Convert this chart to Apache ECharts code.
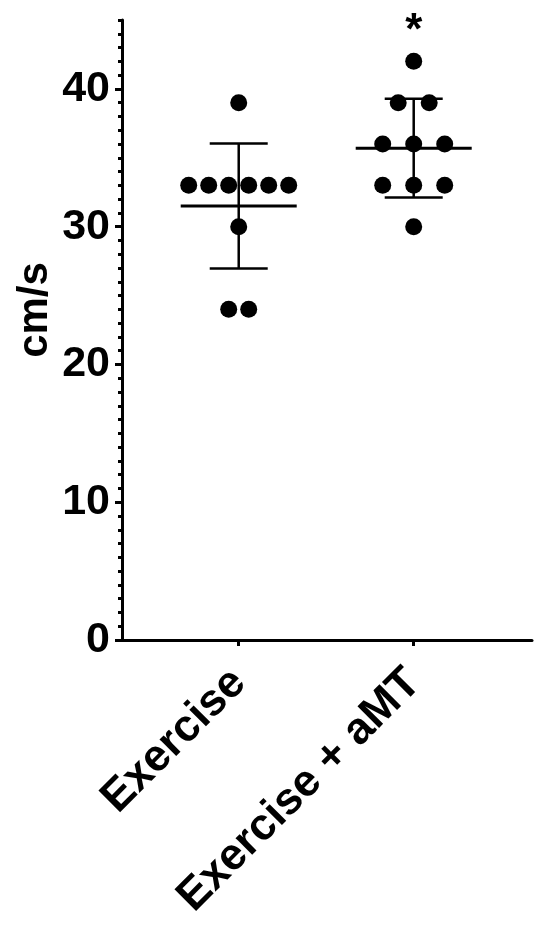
<!DOCTYPE html>
<html>
<head>
<meta charset="utf-8">
<script src="https://cdn.jsdelivr.net/npm/echarts@6/dist/echarts.min.js"></script>
<style>
html,body{margin:0;padding:0;background:#fff;}
#chart{width:550px;height:941px;}
</style>
</head>
<body>
<div id="chart"></div>
<script>
// ---- data ----
const categories = ['Exercise', 'Exercise + aMT'];
const exerciseValues = [39, 33, 33, 33, 33, 33, 33, 30, 24, 24];
const exerciseAmtValues = [42, 39, 39, 36, 36, 36, 33, 33, 33, 30];
const yTickValues = [0, 10, 20, 30, 40];
const significance = ['', '*'];
const yAxisTitle = 'cm/s';

// ---- style / layout ----
const FONT = '"Liberation Sans", Arial, sans-serif';
const spreadPx = [20, 31];
const groups = [exerciseValues, exerciseAmtValues];

// build scatter items: [xPos, value, slotOffset, groupIndex]
const dotData = [];
groups.forEach((vals, g) => {
  const counts = {};
  vals.forEach(v => { counts[v] = (counts[v] || 0) + 1; });
  const seen = {};
  vals.forEach(v => {
    const n = counts[v];
    const i = seen[v] || 0;
    seen[v] = i + 1;
    dotData.push([g + 1, v, i - (n - 1) / 2, g]);
  });
});

function mean(a) { return a.reduce((s, v) => s + v, 0) / a.length; }
function sd(a) {
  const m = mean(a);
  return Math.sqrt(a.reduce((s, v) => s + (v - m) * (v - m), 0) / (a.length - 1));
}
const statData = groups.map((vals, g) => [g + 1, mean(vals), sd(vals), g]);

const chart = echarts.init(document.getElementById('chart'));
const Y_MAX = 45;

chart.setOption({
  backgroundColor: '#fff',
  animation: false,
  grid: { left: 122, right: 18, top: 20, bottom: 301, containLabel: false },
  xAxis: {
    type: 'value',
    min: 0.333,
    max: 2.676,
    splitLine: { show: false },
    axisLine: { show: true, lineStyle: { color: '#000', width: 3 } },
    axisTick: { show: true, customValues: [1, 2], length: 6, inside: false, lineStyle: { color: '#000', width: 3 } },
    axisLabel: {
      customValues: [1, 2],
      rotate: 45,
      margin: 36,
      formatter: v => categories[Math.round(v) - 1] || '',
      color: '#000',
      fontFamily: FONT,
      fontWeight: 'bold',
      fontSize: 44.5
    }
  },
  yAxis: [
    {
      type: 'value',
      min: 0,
      max: Y_MAX,
      interval: 1,
      position: 'left',
      splitLine: { show: false },
      axisLine: { show: true, lineStyle: { color: '#000', width: 3 } },
      axisTick: { show: true, length: 4, lineStyle: { color: '#000', width: 3 } },
      axisLabel: { show: false },
      name: yAxisTitle,
      nameLocation: 'middle',
      nameGap: 66,
      nameRotate: 90,
      nameTextStyle: {
        color: '#000', fontFamily: FONT, fontWeight: 'bold', fontSize: 42,
        padding: [0, 0, 0, 40]
      }
    },
    {
      type: 'value',
      min: 0,
      max: Y_MAX,
      position: 'left',
      splitLine: { show: false },
      axisLine: { show: false },
      axisTick: { show: true, customValues: yTickValues, length: 7, lineStyle: { color: '#000', width: 3 } },
      axisLabel: {
        customValues: yTickValues,
        margin: 12,
        color: '#000',
        fontFamily: FONT,
        fontWeight: 'bold',
        fontSize: 43
      }
    }
  ],
  series: [
    {
      type: 'custom',
      name: 'points',
      data: dotData,
      renderItem: function (params, api) {
        const p = api.coord([api.value(0), api.value(1)]);
        const g = api.value(3);
        return {
          type: 'circle',
          shape: { cx: p[0] + api.value(2) * spreadPx[g], cy: p[1], r: 8.5 },
          style: { fill: '#000' }
        };
      }
    },
    {
      type: 'custom',
      name: 'meanSD',
      data: statData,
      renderItem: function (params, api) {
        const x = api.value(0), m = api.value(1), s = api.value(2), g = api.value(3);
        const pm = api.coord([x, m]);
        const pu = api.coord([x, m + s]);
        const pl = api.coord([x, m - s]);
        const ptop = api.coord([x, Y_MAX]);
        const cx = pm[0];
        const ls = { stroke: '#000', lineWidth: 2.5 };
        const children = [
          { type: 'line', shape: { x1: cx - 58, y1: pm[1], x2: cx + 58, y2: pm[1] }, style: { stroke: '#000', lineWidth: 3 } },
          { type: 'line', shape: { x1: cx, y1: pu[1], x2: cx, y2: pl[1] }, style: ls },
          { type: 'line', shape: { x1: cx - 29, y1: pu[1], x2: cx + 29, y2: pu[1] }, style: ls },
          { type: 'line', shape: { x1: cx - 29, y1: pl[1], x2: cx + 29, y2: pl[1] }, style: ls }
        ];
        if (significance[g]) {
          children.push({
            type: 'text',
            style: {
              text: significance[g], x: cx, y: ptop[1] - 10,
              align: 'center', verticalAlign: 'top',
              fill: '#000', font: 'bold 44px ' + FONT
            }
          });
        }
        return { type: 'group', children: children };
      }
    }
  ]
});
</script>
</body>
</html>
